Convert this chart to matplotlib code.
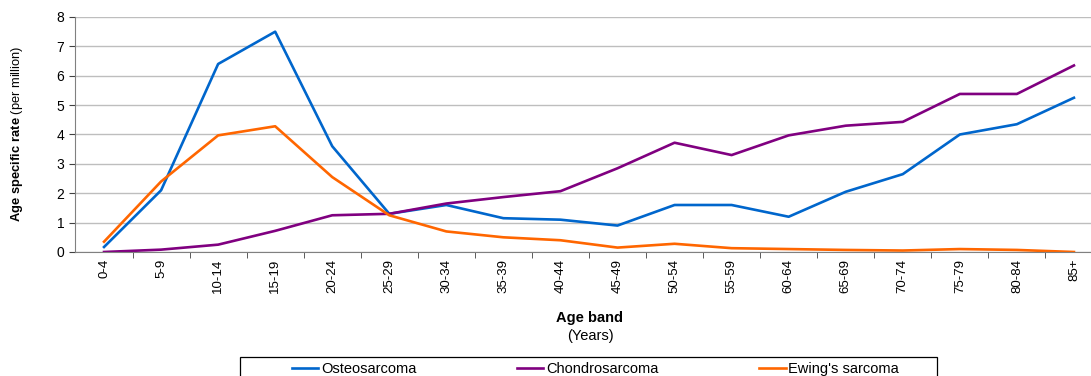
import matplotlib
matplotlib.use("Agg")
import matplotlib.pyplot as plt
from matplotlib.patches import Rectangle

plt.rcParams['font.family'] = ['Liberation Sans', 'DejaVu Sans']
plt.rcParams['mathtext.fontset'] = 'custom'
plt.rcParams['mathtext.bf'] = 'Liberation Sans:bold'
plt.rcParams['mathtext.rm'] = 'Liberation Sans'

age_bands = ['0-4', '5-9', '10-14', '15-19', '20-24', '25-29', '30-34', '35-39', '40-44',
             '45-49', '50-54', '55-59', '60-64', '65-69', '70-74', '75-79', '80-84', '85+']
osteo = [0.17, 2.1, 6.4, 7.5, 3.6, 1.3, 1.6, 1.15, 1.1, 0.9, 1.6, 1.6, 1.2, 2.05, 2.65, 4.0, 4.35, 5.25]
chondro = [0.0, 0.08, 0.25, 0.72, 1.25, 1.3, 1.65, 1.87, 2.07, 2.85, 3.72, 3.3, 3.97, 4.3, 4.43, 5.38, 5.38, 6.35]
ewing = [0.35, 2.4, 3.97, 4.28, 2.55, 1.25, 0.7, 0.5, 0.4, 0.15, 0.28, 0.13, 0.1, 0.07, 0.05, 0.1, 0.07, 0.0]

W, H = 1091, 376
fig = plt.figure(figsize=(W / 100, H / 100), dpi=100)
ax = fig.add_axes([0.0692, 0.3298, 0.9413, 0.625])

x = list(range(len(age_bands)))
ax.plot(x, osteo, color='#0066CC', lw=1.9, label='Osteosarcoma')
ax.plot(x, chondro, color='#800080', lw=1.9, label='Chondrosarcoma')
ax.plot(x, ewing, color='#FF6600', lw=1.9, label="Ewing's sarcoma")

ax.set_xlim(-0.5, len(age_bands) - 0.5)
ax.set_ylim(0, 8)
ax.set_yticks(range(0, 9))
ax.yaxis.grid(True, color='#BEBEBE', lw=1)
ax.set_axisbelow(True)

# category labels in the middle, ticks on the boundaries
ax.set_xticks(x)
ax.set_xticklabels(age_bands, rotation=90, fontsize=9.5)
ax.tick_params(axis='x', which='major', length=0, pad=5)
ax.set_xticks([i - 0.5 for i in range(1, len(age_bands) + 1)], minor=True)
ax.tick_params(axis='x', which='minor', length=4, color='#404040')
ax.tick_params(axis='y', labelsize=10, length=4, color='#404040', pad=4)

for s in ['top', 'right']:
    ax.spines[s].set_visible(False)
for s in ['left', 'bottom']:
    ax.spines[s].set_color('#808080')

fig.text(17 / W, 1 - 134 / H, r'$\bf{Age\ specific\ rate}$ (per million)', rotation=90,
         fontsize=9.3, ha='center', va='center')
fig.text(590 / W, 1 - 318 / H, 'Age band', fontsize=10.5, fontweight='bold', ha='center', va='center')
fig.text(590 / W, 1 - 336 / H, '(Years)', fontsize=10.5, ha='center', va='center')

# legend box (bottom is cut off by the image edge)
fig.patches.append(Rectangle((240 / W, -0.05), 697 / W, 0.05 + 19 / H, transform=fig.transFigure,
                             facecolor='white', edgecolor='black', lw=0.9))
leg = fig.legend(loc='center left', bbox_to_anchor=(292 / W, 1 - 369 / H),
                 ncol=3, fontsize=10.5, frameon=False, borderpad=0, borderaxespad=0,
                 handlelength=1.8, handletextpad=0.2, columnspacing=6.9)

fig.savefig('out.png', dpi=100)
